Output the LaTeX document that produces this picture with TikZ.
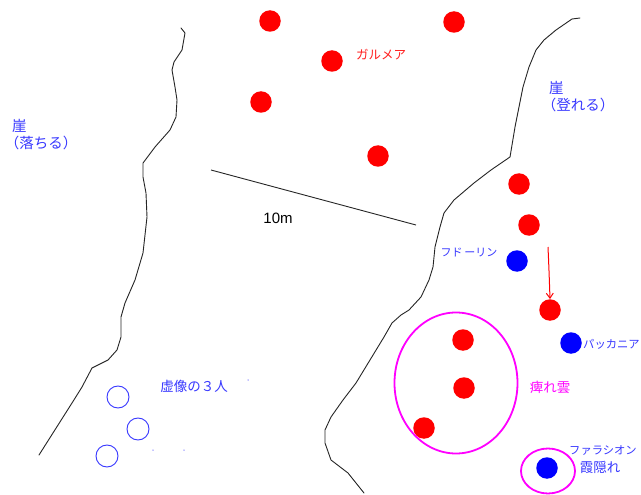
\documentclass[tikz,border=0pt]{standalone}
\usepackage{fontspec}
\setmainfont{Liberation Sans}
\newfontfamily\jp{Noto Sans CJK JP}
\usetikzlibrary{arrows.meta,shapes.geometric}
\definecolor{txtblue}{HTML}{3838FF}
\definecolor{txtred}{HTML}{FF2020}
\definecolor{mag}{HTML}{FF00FF}
\begin{document}
\begin{tikzpicture}[x=1pt,y=-1pt,
  reddot/.style={circle,fill=red,inner sep=0pt,minimum size=21.5pt},
  bluedot/.style={circle,fill=blue,inner sep=0pt,minimum size=21.5pt},
  ghost/.style={circle,draw=txtblue,line width=0.9pt,inner sep=0pt,minimum size=22pt},
  speck/.style={circle,fill=txtblue!60,inner sep=0pt,minimum size=1.5pt},
  cliff/.style={draw=black!85,line width=0.9pt,line join=round,line cap=round},
  lbl/.style={font=\jp\fontsize{12.5}{15}\selectfont,inner sep=0pt},
  kanji/.style={font=\jp\fontsize{13.5}{16}\selectfont,inner sep=0pt},
  kana/.style={font=\jp\fontsize{11.3}{14}\selectfont,inner sep=0pt},
  cliffl/.style={font=\jp\fontsize{14.5}{17}\selectfont,inner sep=0pt,text=txtblue,align=left,anchor=north west},
  ring/.style={ellipse,draw=mag,line width=1.8pt,inner sep=0pt}
]
\useasboundingbox[fill=white] (0,0) rectangle (641,495);

% left cliff
\draw[cliff] (181,28) -- (185,33) -- (182,50) -- (174,62) -- (172,70) -- (175,87) -- (177,100) -- (176,117) -- (170,130) -- (155,147) -- (143,163) -- (143,177) -- (146,193) -- (147,217) -- (143,253) -- (135,280) -- (125,303) -- (121,317) -- (121,337) -- (117,350) -- (108,360) -- (98,365) -- (92,368) -- (82,387) -- (72,403) -- (39,455);

% right cliff
\draw[cliff] (580,18) -- (572,19) -- (556,30) -- (544,40) -- (536,50) -- (529,67) -- (523,87) -- (519,107) -- (515,127) -- (510,157) -- (491,170) -- (474,183) -- (454,200) -- (444,213) -- (440,227) -- (435,247) -- (433,267) -- (429,280) -- (421,297) -- (409,310) -- (401,315) -- (392,323) -- (384,337) -- (370,360) -- (356,383) -- (343,400) -- (331,417) -- (325,430) -- (325,443) -- (331,460) -- (348,473) -- (356,483) -- (364,493);

% scale bar
\coordinate (sA) at (211,170);
\coordinate (sB) at (416,225);
\draw[black!85,line width=0.9pt] (sA) -- (sB);
\node[font=\fontsize{15}{17}\selectfont,inner sep=0pt] (ten) at (278,218) {10m};

% cliff labels
\node[cliffl] (cliffL) at (12,119) {崖\\\hspace*{-0.5em}（落ちる）};
\node[cliffl] (cliffR) at (549,81) {崖\\\hspace*{-0.5em}（登れる）};

% red dots
\node[reddot] (r1) at (270,21) {};
\node[reddot] (r2) at (454,22) {};
\node[reddot] (r3) at (332,61) {};
\node[reddot] (r4) at (261,102) {};
\node[reddot] (r5) at (378,156) {};
\node[reddot] (r6) at (519,184) {};
\node[reddot] (r7) at (529,225) {};
\node[reddot] (r8) at (550,310) {};
\node[reddot] (r9) at (463,340) {};
\node[reddot] (r10) at (464,388) {};
\node[reddot] (r11) at (424,428) {};

\node[lbl,text=txtred] (garumea) at (381,55) {ガルメア};

% blue dots
\node[bluedot] (fudorin) at (517,261) {};
\node[bluedot] (pakkania) at (571,343) {};
\node[bluedot] (farashion) at (547,468) {};

\node[kana,font=\jp\fontsize{11}{14}\selectfont,text=txtblue] (fudorinL) at (469,253) {フド\,ーリン};
\node[kana,text=txtblue,anchor=west] (pakkaniaL) at (583,344) {パッカニア};
\node[kana,text=txtblue] (farashionL) at (603,451) {ファラシオン};
\node[kanji,text=txtblue] (kasumi) at (600,467) {霞隠れ};

% arrow
\coordinate (aS) at (548,247);
\draw[red,line width=1pt,-{Straight Barb[length=5pt,width=7pt]}] (aS) .. controls (549,270) .. (r8.north);

% magenta rings
\node[ring,minimum width=123pt,minimum height=141pt] (cloud) at (456,383) {};
\node[kanji,text=mag] (cloudL) at (550,387) {痺れ雲};
\node[ring,minimum width=54pt,minimum height=45pt] (haze) at (548,471) {};

% phantom three
\node[ghost] (g1) at (118,397) {};
\node[ghost] (g2) at (138,429) {};
\node[ghost] (g3) at (107,456) {};
\node[kanji,text=txtblue] (ghostL) at (194,386) {虚像の３人};

\node[speck] (sp1) at (248,380) {};
\node[speck] (sp2) at (153,450) {};
\node[speck] (sp3) at (184,450) {};
\end{tikzpicture}
\end{document}
